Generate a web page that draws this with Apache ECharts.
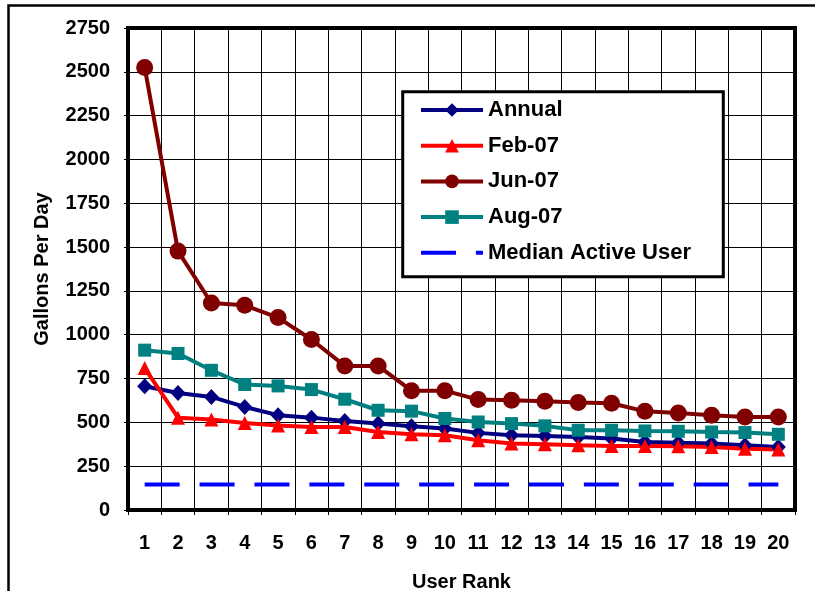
<!DOCTYPE html>
<html>
<head>
<meta charset="utf-8">
<script src="https://cdn.jsdelivr.net/npm/echarts@6/dist/echarts.min.js"></script>
<style>
  html, body { margin: 0; padding: 0; background: #fff; }
  #chart { width: 815px; height: 591px; }
</style>
</head>
<body>
<div id="chart"></div>
<script>
// Daily water use of the top 20 users, ranked
const userRanks = ['1','2','3','4','5','6','7','8','9','10','11','12','13','14','15','16','17','18','19','20'];
const annual = [706, 668, 645, 588, 541, 527, 508, 493, 478, 465, 440, 426, 422, 417, 408, 388, 383, 379, 369, 360];
const feb07  = [810, 527, 516, 497, 482, 474, 474, 445, 432, 426, 398, 379, 375, 369, 365, 365, 364, 360, 350, 345];
const jun07  = [2525, 1477, 1181, 1168, 1098, 973, 822, 822, 681, 681, 630, 626, 620, 613, 609, 563, 554, 541, 531, 531];
const aug07  = [912, 893, 797, 716, 708, 687, 632, 569, 564, 522, 502, 493, 480, 455, 455, 451, 449, 445, 442, 432];
const medianActiveUser = 145;

const yMin = 0, yMax = 2750, yStep = 250;

const FONT = '"Liberation Sans", Arial, sans-serif';

const chart = echarts.init(document.getElementById('chart'), null, { renderer: 'canvas' });

function lineSeries(name, data, color, symbol, size) {
  return {
    name: name,
    type: 'line',
    data: data,
    symbol: symbol,
    symbolSize: size,
    showSymbol: true,
    lineStyle: { color: color, width: 4 },
    itemStyle: { color: color },
    emphasis: { disabled: true },
    animation: false
  };
}

const option = {
  backgroundColor: '#fff',
  animation: false,
  grid: {
    left: 128, right: 20, top: 28, bottom: 81,
    containLabel: false,
    outerBoundsMode: 'none',
    show: true, borderColor: '#000', borderWidth: 4, backgroundColor: '#fff'
  },
  xAxis: {
    type: 'category',
    data: userRanks,
    boundaryGap: true,
    name: 'User Rank',
    nameLocation: 'middle',
    nameGap: 62,
    nameTextStyle: { fontFamily: FONT, fontWeight: 'bold', fontSize: 20, color: '#000' },
    axisLine: { lineStyle: { color: '#000', width: 4 } },
    axisTick: { show: true, interval: 0, length: 5, lineStyle: { color: '#000', width: 1 } },
    axisLabel: { interval: 0, margin: 23, fontFamily: FONT, fontWeight: 'bold', fontSize: 20, color: '#000' },
    splitLine: { show: true, interval: 0, lineStyle: { color: '#000', width: 1 } }
  },
  yAxis: {
    type: 'value',
    min: yMin, max: yMax, interval: yStep,
    name: 'Gallons Per Day',
    nameLocation: 'middle',
    nameGap: 76,
    nameTextStyle: { fontFamily: FONT, fontWeight: 'bold', fontSize: 20, color: '#000' },
    axisLine: { show: true, lineStyle: { color: '#000', width: 4 } },
    axisTick: { show: true, length: 4, lineStyle: { color: '#000', width: 1 } },
    axisLabel: {
      margin: 18, fontFamily: FONT, fontWeight: 'bold', fontSize: 20, color: '#000',
      formatter: function (v) { return String(v); }
    },
    splitLine: { show: true, lineStyle: { color: '#000', width: 1 } }
  },
  legend: {
    orient: 'vertical',
    left: 419, top: 99,
    padding: 0,
    z: 12,
    itemWidth: 62, itemHeight: 17, itemGap: 13.7, itemTextGap: 5,
    lineStyle: { width: 4 },
    textStyle: { fontFamily: FONT, fontWeight: 'bold', fontSize: 22, lineHeight: 22, color: '#000' },
    data: [
      'Annual', 'Feb-07', 'Jun-07', 'Aug-07',
      { name: 'Median Active User', itemStyle: { opacity: 0 } }
    ]
  },
  graphic: [
    {
      type: 'rect', z: 0, silent: true,
      shape: { x: 8.5, y: 5.5, width: 900, height: 700 },
      style: { fill: null, stroke: '#000', lineWidth: 2.5 }
    },
    {
      type: 'rect', z: 11, silent: true,
      shape: { x: 402.7, y: 91.7, width: 320.6, height: 185 },
      style: { fill: '#fff', stroke: '#000', lineWidth: 3 }
    }
  ],
  series: [
    lineSeries('Annual', annual, '#000080', 'diamond', [15, 16]),
    lineSeries('Feb-07', feb07, '#FF0000', 'triangle', 14),
    lineSeries('Jun-07', jun07, '#800000', 'circle', 17),
    lineSeries('Aug-07', aug07, '#008080', 'rect', 13),
    {
      name: 'Median Active User',
      type: 'line',
      data: [[userRanks[0], medianActiveUser], [userRanks[userRanks.length - 1], medianActiveUser]],
      symbol: 'none',
      lineStyle: { color: '#0000FF', width: 4, type: [35, 19.9], cap: 'butt' },
      itemStyle: { color: '#0000FF' },
      emphasis: { disabled: true },
      animation: false
    }
  ]
};

chart.setOption(option);
</script>
</body>
</html>
